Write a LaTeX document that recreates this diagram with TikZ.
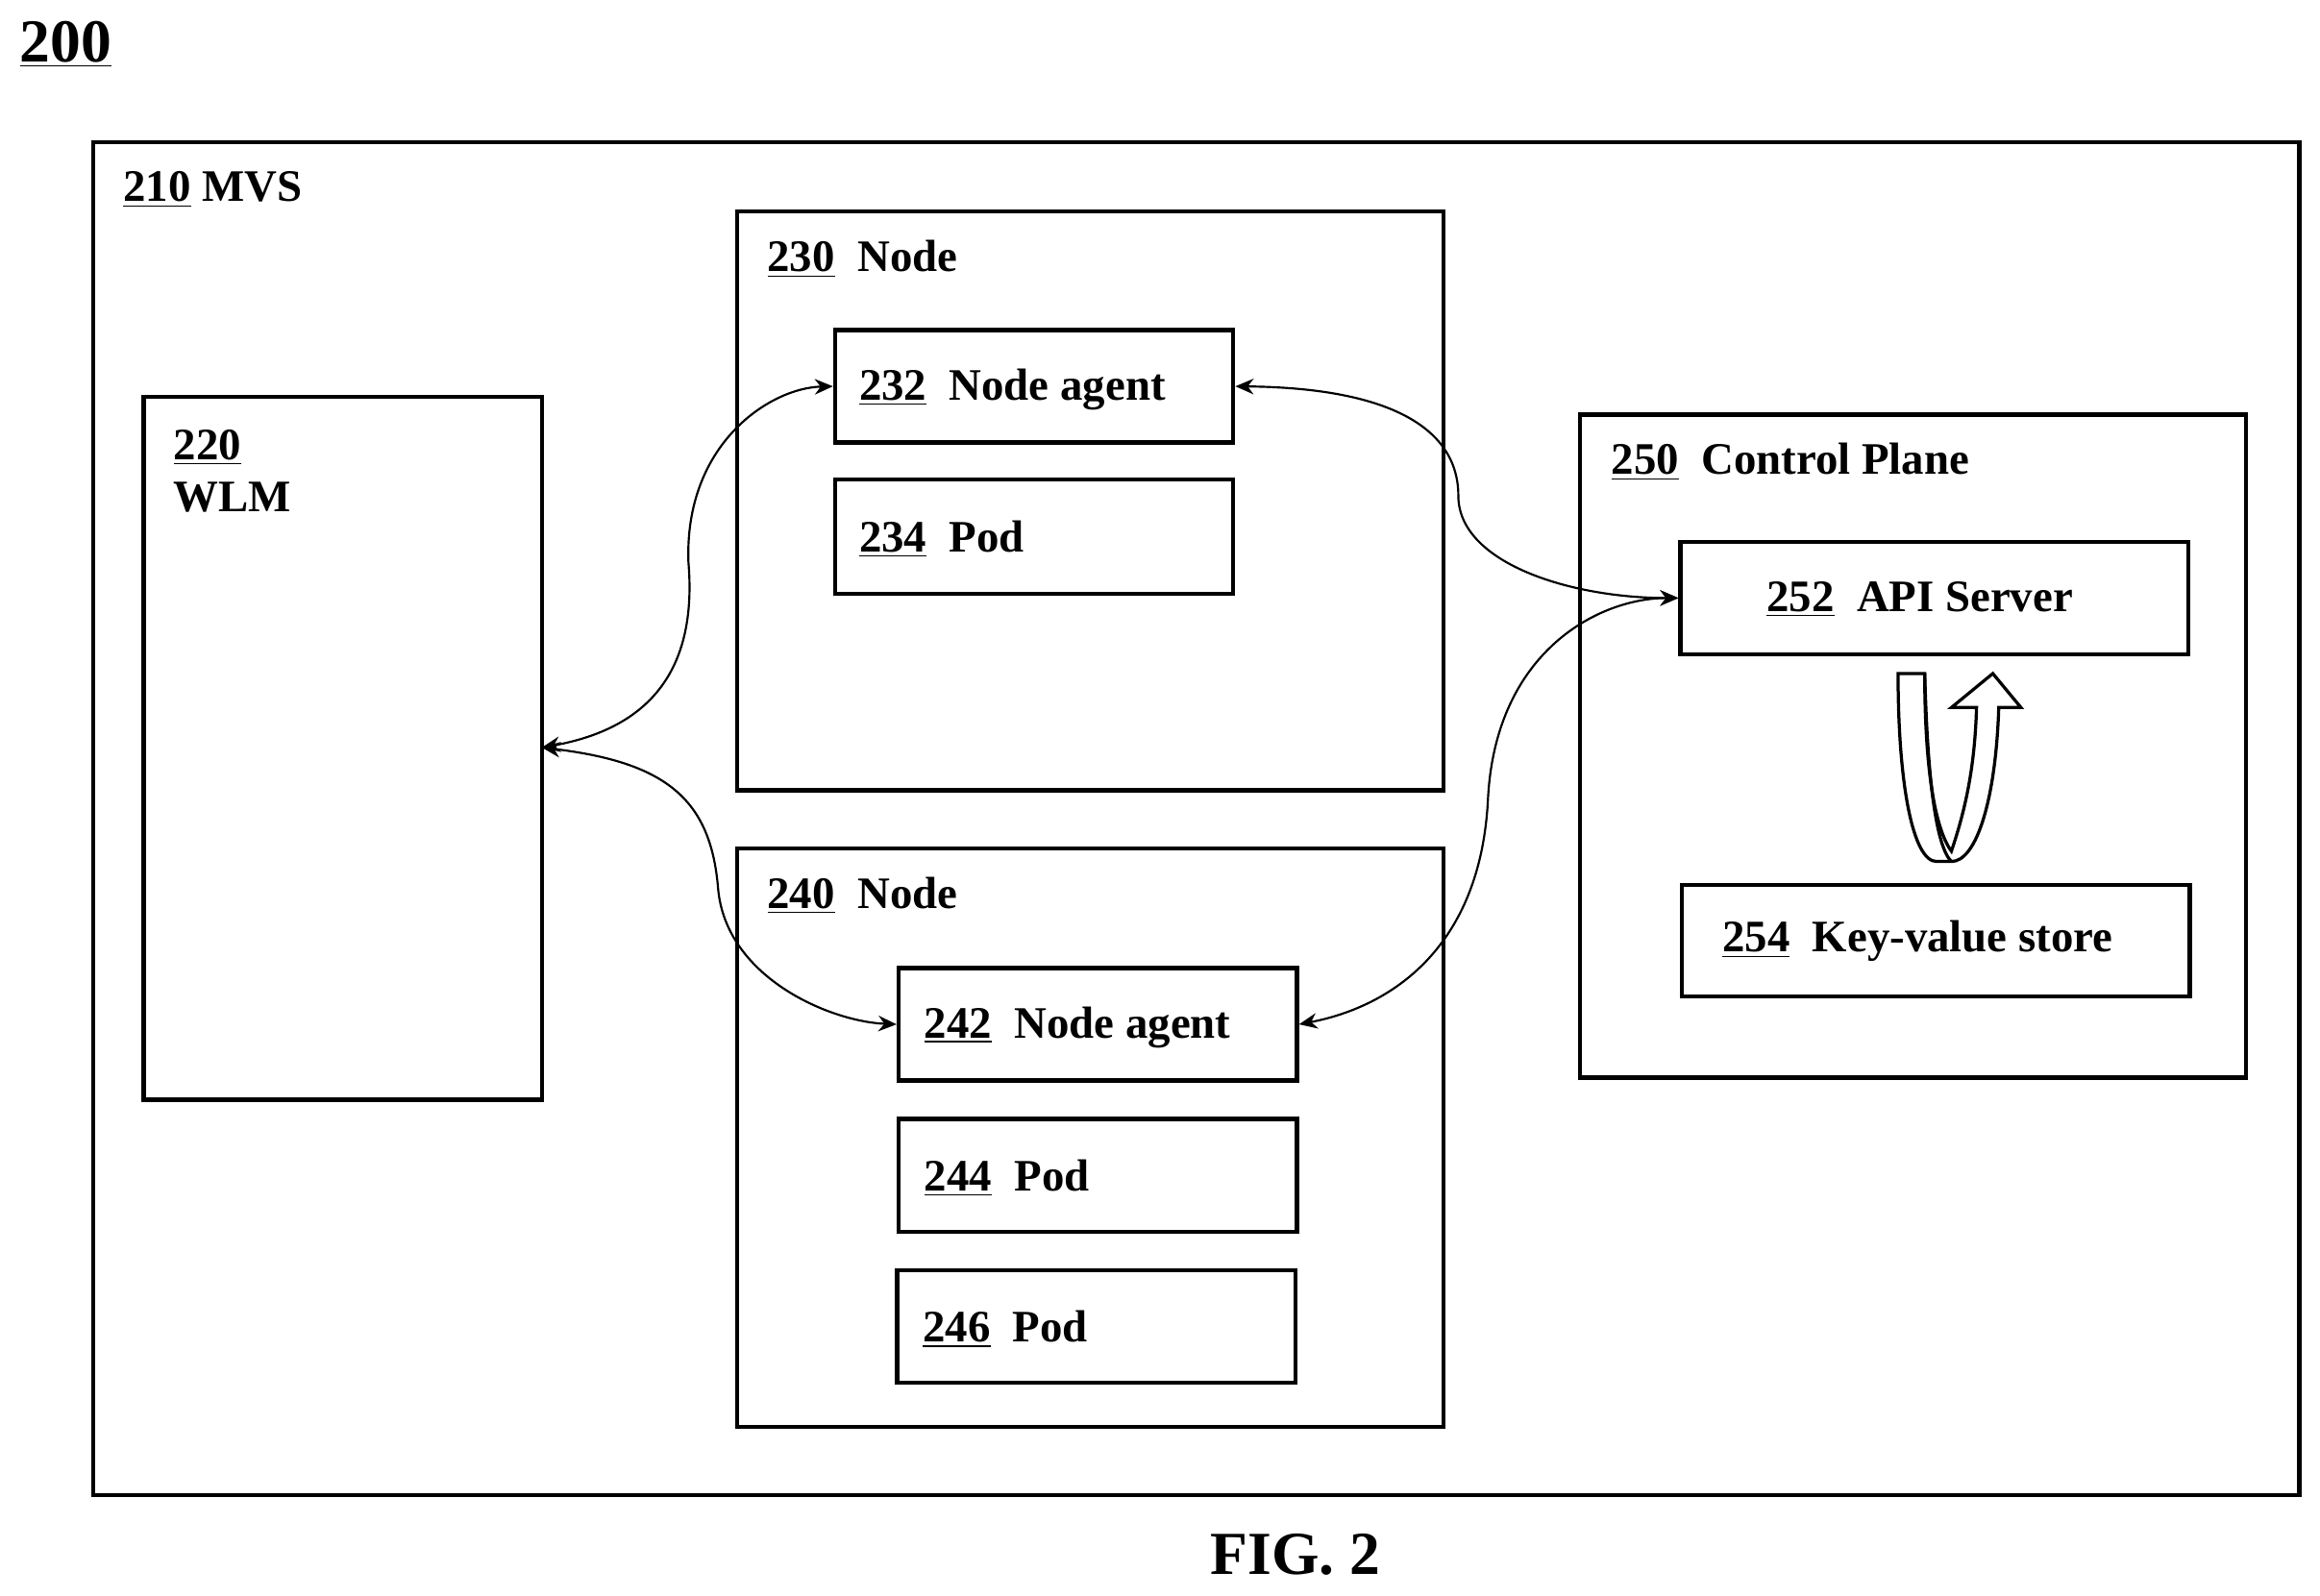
\documentclass[tikz,border=0pt]{standalone}
\usepackage{fontspec}
\setmainfont{Liberation Serif}
\usetikzlibrary{arrows.meta}
\begin{document}
\begin{tikzpicture}[x=0.02cm,y=-0.02cm,
  box/.style={draw,line width=1.6pt},
  lab/.style={anchor=west,font=\fontsize{17.3}{19}\selectfont\bfseries,inner sep=0pt},
  con/.style={{Stealth[length=7pt,width=6pt]}-{Stealth[length=7pt,width=6pt]},line width=0.8pt}]
\useasboundingbox (0,0) rectangle (1567,1078.2);
\node[anchor=west,inner sep=0pt,font=\fontsize{23.5}{25}\selectfont\bfseries] (t200) at (13,30) {\underline{200}};
\draw[box] (63,96) rectangle (1553,1010);
\node[lab] (l210) at (83,128) {\underline{210} MVS};
\draw[box] (97,268) rectangle (366,743);
\coordinate (wlm) at (366,505);
\node[lab,align=left] (l220) at (117,318) {\underline{220}\\[1pt]WLM};
\draw[box] (498,143) rectangle (975,534);
\node[lab] (l230) at (518,175) {\underline{230}\ \ Node};
\node[box,minimum width=269*0.02cm,minimum height=76*0.02cm] (n232) at (698.5,261) {};
\node[lab] at (580,263) {\underline{232}\ \ Node agent};
\node[box,minimum width=269*0.02cm,minimum height=77*0.02cm] (n234) at (698.5,362.5) {};
\node[lab] at (580,364) {\underline{234}\ \ Pod};
\draw[box] (498,573) rectangle (975,964);
\node[lab] (l240) at (518,605) {\underline{240}\ \ Node};
\node[box,minimum width=269*0.02cm,minimum height=76*0.02cm] (n242) at (741.5,692) {};
\node[lab] at (624,694) {\underline{242}\ \ Node agent};
\node[box,minimum width=269*0.02cm,minimum height=76*0.02cm] (n244) at (741.5,794) {};
\node[lab] at (624,796) {\underline{244}\ \ Pod};
\node[box,minimum width=269*0.02cm,minimum height=76*0.02cm] (n246) at (740.5,896) {};
\node[lab] at (623,898) {\underline{246}\ \ Pod};
\draw[box] (1067,280) rectangle (1517,728);
\node[lab] (l250) at (1088,312) {\underline{250}\ \ Control Plane};
\node[box,minimum width=343*0.02cm,minimum height=76*0.02cm] (n252) at (1306.5,404) {};
\node[lab] at (1193,405) {\underline{252}\ \ API Server};
\node[box,minimum width=343*0.02cm,minimum height=75*0.02cm] (n254) at (1307.5,635.5) {};
\node[lab] at (1163,636) {\underline{254}\ \ Key-value store};
\draw[con] (wlm) .. controls (450,490) and (470,440) .. (465,380) .. controls (462,300) and (520,262) .. (n232.west);
\draw[con] (wlm) .. controls (450,515) and (480,540) .. (485,600) .. controls (490,660) and (560,690) .. (n242.west);
\draw[con] (n232.east) .. controls (940,262) and (985,290) .. (985,335) .. controls (985,380) and (1060,404) .. (n252.west);
\draw[con] (n242.east) .. controls (940,680) and (1000,640) .. (1005,540) .. controls (1010,440) and (1080,404) .. (n252.west);
\draw[line width=1.2pt,fill=white] (1282,455) -- (1300,455) .. controls (1300,520) and (1307,560) .. (1318,575) .. controls (1330,540) and (1334,510) .. (1335,478) -- (1318,478) -- (1346,455) -- (1365,478) -- (1350,478) .. controls (1348,540) and (1335,582) .. (1318,582) -- (1308,582) .. controls (1292,582) and (1282,530) .. cycle;
\draw[line width=1.2pt] (1300,455) .. controls (1302,530) and (1308,572) .. (1318,582);
\node[font=\fontsize{23.5}{25}\selectfont\bfseries] (fig) at (875,1050) {FIG. 2};
\end{tikzpicture}
\end{document}
